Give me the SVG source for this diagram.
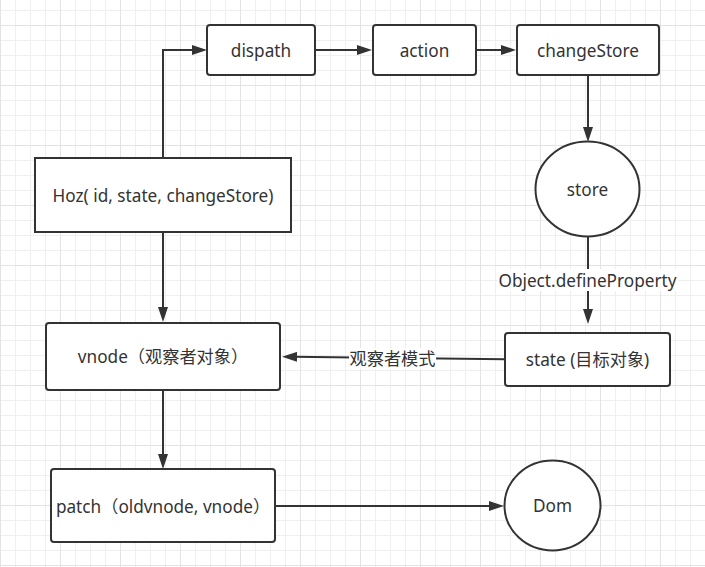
<svg xmlns="http://www.w3.org/2000/svg" width="705" height="567" viewBox="0 0 705 567">
  <defs>
    <pattern id="grid" patternUnits="userSpaceOnUse" x="0" y="25" width="60" height="60">
      <path d="M15.5,0V60M30.5,0V60M45.5,0V60M0,15.5H60M0,30.5H60M0,45.5H60" stroke="#efefef" stroke-width="1" fill="none"/>
      <path d="M0.5,0V60M0,0.5H60" stroke="#e3e3e3" stroke-width="1" fill="none"/>
    </pattern>
    <marker id="arrow" markerUnits="userSpaceOnUse" markerWidth="16" markerHeight="10" refX="5" refY="5" orient="auto">
      <path d="M0,0 L15,5 L0,10 Z" fill="#333333"/>
    </marker>
    <style>
      .node { fill: #ffffff; stroke: #333333; stroke-width: 2; }
      .label { font-family: "Noto Sans", "Noto Sans CJK SC", sans-serif; font-size: 17.2px; fill: #333333; text-anchor: middle; }
      .edge { fill: none; stroke: #333333; stroke-width: 2; }
      .edgebg { fill: #ffffff; }
    </style>
  </defs>
  <rect x="0" y="0" width="705" height="567" fill="#ffffff"/>
  <rect x="0" y="0" width="705" height="567" fill="url(#grid)"/>

  <g id="connectors">
    <path class="edge" d="M163,158 L163,50 L197,50" marker-end="url(#arrow)"/>
    <path class="edge" d="M315,50 L362,50" marker-end="url(#arrow)"/>
    <path class="edge" d="M476,50 L506,50" marker-end="url(#arrow)"/>
    <path class="edge" d="M588,75 L588,132" marker-end="url(#arrow)"/>
    <path class="edge" d="M588,237 L588,314" marker-end="url(#arrow)"/>
    <path class="edge" d="M505,359.3 L292,356.8" marker-end="url(#arrow)"/>
    <path class="edge" d="M163,232 L163,312" marker-end="url(#arrow)"/>
    <path class="edge" d="M163,390 L163,459" marker-end="url(#arrow)"/>
    <path class="edge" d="M275,506 L494,506" marker-end="url(#arrow)"/>
    <g id="edge-label-defineProperty">
      <rect class="edgebg" x="497" y="269" width="181" height="22"/>
      <text class="label" x="587.5" y="287">Object.defineProperty</text>
    </g>
    <g id="edge-label-observer">
      <rect class="edgebg" x="349" y="348" width="87" height="21"/>
      <text class="label" x="392.5" y="365">观察者模式</text>
    </g>
  </g>

  <g id="node-dispath">
    <rect class="node" x="207" y="25" width="108" height="50" rx="3"/>
    <text class="label" x="261" y="56.5">dispath</text>
  </g>
  <g id="node-action">
    <rect class="node" x="373" y="25" width="103" height="50" rx="3"/>
    <text class="label" x="424.5" y="56.5">action</text>
  </g>
  <g id="node-changeStore">
    <rect class="node" x="517" y="25" width="142" height="50" rx="3"/>
    <text class="label" x="588" y="56.5">changeStore</text>
  </g>
  <g id="node-store">
    <ellipse class="node" cx="587.5" cy="189" rx="52" ry="47.5"/>
    <text class="label" x="587.5" y="195.5">store</text>
  </g>
  <g id="node-hoz">
    <rect class="node" x="35" y="158" width="256" height="74"/>
    <text class="label" x="163" y="201.5">Hoz( id, state, changeStore)</text>
  </g>
  <g id="node-vnode">
    <rect class="node" x="46" y="323" width="234" height="67" rx="3"/>
    <text class="label" x="163" y="363">vnode（观察者对象）</text>
  </g>
  <g id="node-state">
    <rect class="node" x="505" y="333" width="165" height="53" rx="3"/>
    <text class="label" x="587.5" y="365.5">state (目标对象)</text>
  </g>
  <g id="node-patch">
    <rect class="node" x="51" y="469" width="224" height="73" rx="3"/>
    <text class="label" x="163" y="512.5">patch（oldvnode, vnode）</text>
  </g>
  <g id="node-dom">
    <ellipse class="node" cx="552.5" cy="505.5" rx="48" ry="45"/>
    <text class="label" x="552.5" y="512">Dom</text>
  </g>
</svg>
